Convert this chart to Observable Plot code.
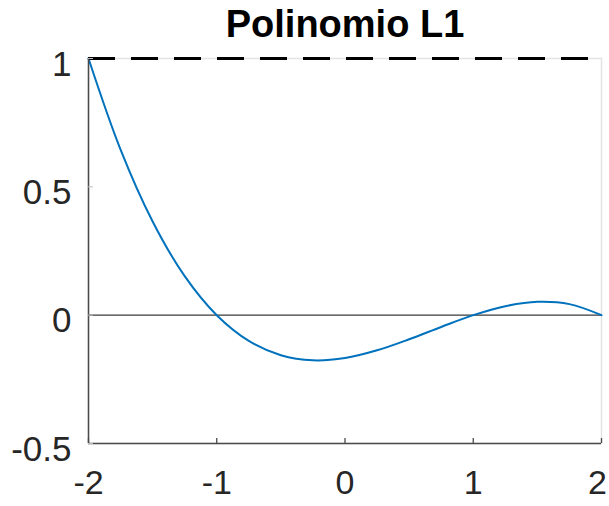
<!DOCTYPE html>
<html>
<head>
<meta charset="utf-8">
<script src="https://cdn.jsdelivr.net/npm/d3@7"></script>
<script src="https://cdn.jsdelivr.net/npm/@observablehq/plot@0.6"></script>
<style>
  html, body { margin: 0; padding: 0; background: #fff; }
  #chart svg { display: block; }
</style>
</head>
<body>
<div id="chart"></div>
<script>
const titleText = "Polinomio L1";
const xValues = [-2, -1.75, -1.5, -1.25, -1, -0.75, -0.5, -0.25, 0, 0.25, 0.5, 0.75, 1, 1.25, 1.5, 1.75, 2];
const yValues = [1, 0.645, 0.365, 0.152, 0, -0.100, -0.156, -0.176, -0.167, -0.137, -0.094, -0.046, 0, 0.035, 0.052, 0.043, 0];
const xTicks = [-2, -1, 0, 1, 2];
const yTicks = [-0.5, 0, 0.5, 1];
const xDomain = [-2, 2];
const yDomain = [-0.5, 1];
const refLevel = [1];
const zeroLevel = [0];

const data = xValues.map((x, i) => ({x, y: yValues[i]}));

const W = 609, H = 506;
const mL = 88, mR = 8, mT = 58, mB = 63;
const fw = W - mL - mR, fh = H - mT - mB;
const fmt = d => String(d).replace("−", "-");
const xTicksInner = xTicks.slice(0, -1);
const xTickLast = xTicks.slice(-1);

const chart = Plot.plot({
  width: W,
  height: H,
  marginLeft: mL,
  marginRight: mR,
  marginTop: mT,
  marginBottom: mB,
  style: {fontFamily: "'Liberation Sans', Arial, Helvetica, sans-serif", background: "#fff", color: "#262626"},
  x: {domain: xDomain, label: null},
  y: {domain: yDomain, label: null},
  marks: [
    Plot.frame({stroke: "#e3e3e3", strokeWidth: 1.5}),
    Plot.ruleY(zeroLevel, {stroke: "#3a3a3a", strokeWidth: 1.3}),
    Plot.line(data, {x: "x", y: "y", stroke: "#0072BD", strokeWidth: 2, curve: "catmull-rom"}),
    Plot.ruleY(refLevel, {stroke: "#000", strokeWidth: 3, strokeDasharray: "27,16"}),
    Plot.ruleX([xDomain[0]], {stroke: "#4a4a4a", strokeWidth: 1.5}),
    Plot.ruleY([yDomain[0]], {stroke: "#4a4a4a", strokeWidth: 1.5}),
    Plot.tickX(xTicks, {x: d => d, insetTop: fh - 5, stroke: "#4a4a4a", strokeWidth: 1.3}),
    Plot.tickY(yTicks, {y: d => d, insetRight: fw - 5, stroke: "#bbb", strokeWidth: 1}),
    Plot.axisX({ticks: xTicksInner, tickSize: 0, tickPadding: 26, fontSize: 34, label: null, tickFormat: fmt}),
    Plot.axisX({ticks: xTickLast, tickSize: 0, tickPadding: 26, fontSize: 34, dx: -4, label: null, tickFormat: fmt}),
    Plot.axisY({ticks: yTicks, tickSize: 0, tickPadding: 17, fontSize: 35, dy: 6, label: null, tickFormat: fmt}),
    Plot.text([titleText], {frameAnchor: "top", dy: -34, fontSize: 38, fontWeight: "bold", fill: "#000", lineAnchor: "middle"})
  ]
});

document.getElementById("chart").appendChild(chart);
</script>
</body>
</html>
